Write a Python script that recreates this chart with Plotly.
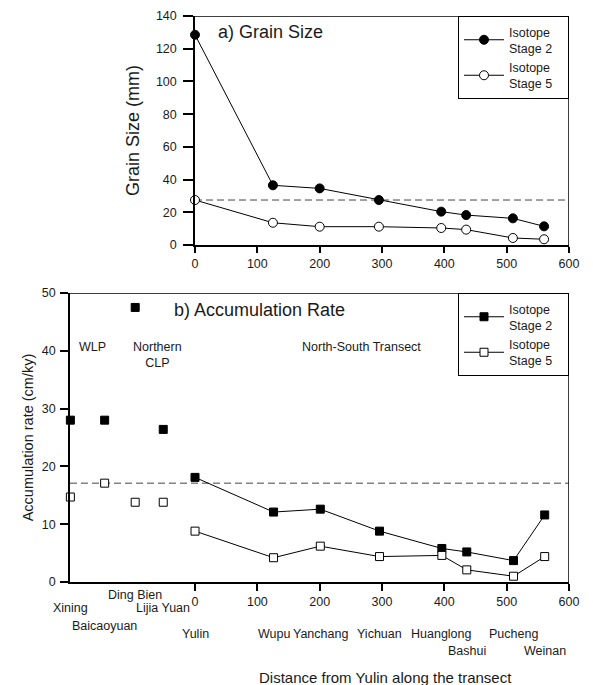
import plotly.graph_objects as go

# ---------------- data ----------------
# a) Grain size along the transect
gs_dist = [0, 125, 200, 295, 395, 435, 510, 560]
gs_stage2 = [128.5, 36.5, 34.6, 27.5, 20.4, 18.3, 16.3, 11.4]
gs_stage5 = [27.5, 13.6, 11.2, 11.2, 10.4, 9.4, 4.3, 3.5]
gs_threshold = 27.5

# b) Accumulation rate
off_sites = ["Xining", "Baicaoyuan", "Ding Bien", "Lijia Yuan"]
off_dist = [-200, -145, -96, -51]
off_stage2 = [28.0, 28.0, 47.5, 26.4]
off_stage5 = [14.7, 17.1, 13.8, 13.8]

tr_sites = ["Yulin", "Wupu", "Yanchang", "Yichuan", "Huanglong", "Bashui", "Pucheng", "Weinan"]
tr_dist = [0, 126, 201, 296, 396, 436, 511, 561]
tr_stage2 = [18.1, 12.1, 12.6, 8.8, 5.8, 5.2, 3.7, 11.6]
tr_stage5 = [8.8, 4.2, 6.2, 4.4, 4.6, 2.1, 1.0, 4.4]
ar_threshold = 17.1

x_ticks = [0, 100, 200, 300, 400, 500, 600]
gs_yticks = [0, 20, 40, 60, 80, 100, 120, 140]
ar_yticks = [0, 10, 20, 30, 40, 50]

# axis ranges
gs_xrange = [0, 600]
gs_yrange = [0, 140]
ar_xrange = [-200.6, 600]
ar_yrange = [0, 50]

# label row (pixel from top) for each site name under the lower axis
off_label_rows = [607.7, 625.7, 595.0, 607.7]
tr_label_rows = [634, 634, 634, 634, 634, 651, 634, 651]

W, H = 593, 685
FONT = "Liberation Sans, Arial, sans-serif"
TXT = "#1a1a1a"
NB = "\u00a0"

# panel domains (paper fractions)
top_x = [195 / W, 569 / W]
top_y = [1 - 245 / H, 1 - 16 / H]
bot_x = [70 / W, 569 / W]
bot_y = [1 - 582 / H, 1 - 293 / H]

name2 = "Isotope" + NB * 3 + "<br>Stage 2" + NB * 3
name5 = "Isotope" + NB * 3 + "<br>Stage 5" + NB * 3

fig = go.Figure()

# panel frames (top and right edges), following the axis ranges
for xa, ya, xr, yr in (("x", "y", gs_xrange, gs_yrange), ("x2", "y2", ar_xrange, ar_yrange)):
    fig.add_trace(go.Scatter(x=[xr[0], xr[1], xr[1]], y=[yr[1], yr[1], yr[0]], mode="lines",
                             line=dict(color="black", width=1.5), hoverinfo="skip", showlegend=False,
                             xaxis=xa, yaxis=ya, cliponaxis=False))

# top panel
fig.add_trace(go.Scatter(x=gs_dist, y=gs_stage2, mode="lines+markers", name=name2,
                         line=dict(color="black", width=1),
                         marker=dict(symbol="circle", size=9, color="black", line=dict(color="black", width=1)),
                         xaxis="x", yaxis="y", cliponaxis=False, legend="legend"))
fig.add_trace(go.Scatter(x=gs_dist, y=gs_stage5, mode="lines+markers", name=name5,
                         line=dict(color="black", width=1),
                         marker=dict(symbol="circle", size=9, color="white", line=dict(color="black", width=1)),
                         xaxis="x", yaxis="y", cliponaxis=False, legend="legend"))

# bottom panel
fig.add_trace(go.Scatter(x=tr_dist, y=tr_stage2, mode="lines+markers", name=name2,
                         line=dict(color="black", width=1),
                         marker=dict(symbol="square", size=8, color="black", line=dict(color="black", width=1)),
                         xaxis="x2", yaxis="y2", cliponaxis=False, legend="legend2"))
fig.add_trace(go.Scatter(x=tr_dist, y=tr_stage5, mode="lines+markers", name=name5,
                         line=dict(color="black", width=1),
                         marker=dict(symbol="square", size=8, color="white", line=dict(color="black", width=1)),
                         xaxis="x2", yaxis="y2", cliponaxis=False, legend="legend2"))
fig.add_trace(go.Scatter(x=off_dist, y=off_stage2, mode="markers", showlegend=False,
                         marker=dict(symbol="square", size=8, color="black", line=dict(color="black", width=1)),
                         xaxis="x2", yaxis="y2", cliponaxis=False))
fig.add_trace(go.Scatter(x=off_dist, y=off_stage5, mode="markers", showlegend=False,
                         marker=dict(symbol="square", size=8, color="white", line=dict(color="black", width=1)),
                         xaxis="x2", yaxis="y2", cliponaxis=False))

# dashed threshold lines
fig.add_shape(type="line", xref="x domain", yref="y", x0=0, x1=1, y0=gs_threshold, y1=gs_threshold,
              line=dict(color="#444", width=1, dash="7px,4px"), layer="below")
fig.add_shape(type="line", xref="x2 domain", yref="y2", x0=0, x1=1, y0=ar_threshold, y1=ar_threshold,
              line=dict(color="#444", width=1, dash="7px,4px"), layer="below")

axis_common = dict(showline=True, linecolor="black", linewidth=1.5, ticks="outside",
                   tickwidth=1.5, tickcolor="black", showgrid=False, zeroline=False, automargin=False,
                   tickfont=dict(family=FONT, size=12.5, color=TXT))

fig.update_layout(
    width=W, height=H, margin=dict(l=0, r=0, t=0, b=0, autoexpand=False),
    paper_bgcolor="white", plot_bgcolor="white",
    font=dict(family=FONT, color=TXT),
    xaxis=dict(domain=top_x, range=gs_xrange, tickvals=x_ticks, anchor="y", ticklen=6, ticklabelstandoff=0,
               **axis_common),
    yaxis=dict(domain=top_y, range=gs_yrange, tickvals=gs_yticks, anchor="x", ticklen=10, ticklabelstandoff=4,
               title=dict(text="Grain Size (mm)", font=dict(family=FONT, size=18, color=TXT), standoff=12),
               **axis_common),
    xaxis2=dict(domain=bot_x, range=ar_xrange, tickvals=x_ticks, anchor="y2", ticklen=7, ticklabelstandoff=0,
                **axis_common),
    yaxis2=dict(domain=bot_y, range=ar_yrange, tickvals=ar_yticks, anchor="x2", ticklen=8, ticklabelstandoff=2,
                title=dict(text="Accumulation rate (cm/ky)", font=dict(family=FONT, size=14.5, color=TXT), standoff=5),
                **axis_common),
    legend=dict(x=top_x[1], y=top_y[1], xanchor="right", yanchor="top", bordercolor="black", borderwidth=1,
                bgcolor="white", font=dict(family=FONT, size=12.5, color=TXT), itemwidth=40, tracegroupgap=0),
    legend2=dict(x=bot_x[1], y=bot_y[1], xanchor="right", yanchor="top", bordercolor="black", borderwidth=1,
                 bgcolor="white", font=dict(family=FONT, size=12.5, color=TXT), itemwidth=40, tracegroupgap=0),
)

ann = []
ann.append(dict(text="a) Grain Size", xref="paper", yref="paper", x=216 / W, y=1 - 32 / H,
                xanchor="left", yanchor="middle", showarrow=False, font=dict(family=FONT, size=18, color=TXT)))
ann.append(dict(text="b) Accumulation Rate", xref="paper", yref="paper", x=172 / W, y=1 - 310 / H,
                xanchor="left", yanchor="middle", showarrow=False, font=dict(family=FONT, size=18, color=TXT)))
ann.append(dict(text="WLP", xref="paper", yref="paper", x=92 / W, y=1 - 347 / H,
                xanchor="center", yanchor="middle", showarrow=False, font=dict(family=FONT, size=12.5, color=TXT)))
ann.append(dict(text="Northern<br>CLP", xref="paper", yref="paper", x=157 / W, y=1 - 355 / H,
                xanchor="center", yanchor="middle", showarrow=False, font=dict(family=FONT, size=12.5, color=TXT)))
ann.append(dict(text="North-South Transect", xref="paper", yref="paper", x=361 / W, y=1 - 347 / H,
                xanchor="center", yanchor="middle", showarrow=False, font=dict(family=FONT, size=12.5, color=TXT)))
ann.append(dict(text="Distance from Yulin along the transect", xref="paper", yref="paper", x=385 / W, y=1 - 677 / H,
                xanchor="center", yanchor="middle", showarrow=False, font=dict(family=FONT, size=15, color=TXT)))

for name, d, row in zip(off_sites + tr_sites, off_dist + tr_dist, off_label_rows + tr_label_rows):
    ann.append(dict(text=name, xref="x2", yref="paper", x=d, y=1 - row / H, xanchor="center",
                    yanchor="middle", showarrow=False, font=dict(family=FONT, size=12.5, color=TXT)))

fig.update_layout(annotations=ann)
fig.write_html("out.html", config={"displayModeBar": False},
               post_script="document.body.style.margin='0';")
